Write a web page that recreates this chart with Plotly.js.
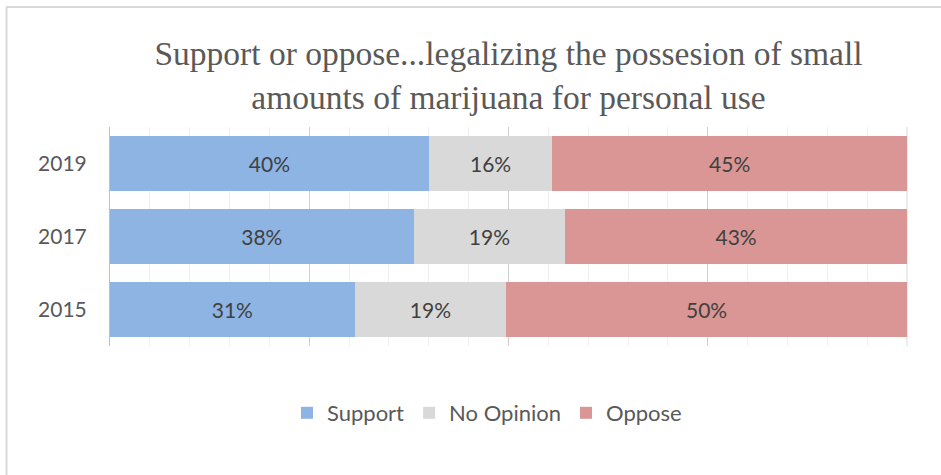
<!DOCTYPE html>
<html>
<head>
<meta charset="utf-8">
<script src="https://cdn.plot.ly/plotly-3.0.1.min.js"></script>
<style>html,body{margin:0;padding:0;background:#fff;}</style>
</head>
<body>
<div id="chart" style="width:941px;height:475px;"></div>
<script>
const years = ['2015', '2017', '2019'];
const support = [30.7, 38.1, 40];
const noOpinion = [19, 19, 15.5];
const oppose = [50.3, 42.9, 44.5];
const supportLabels = ['31%', '38%', '40%'];
const noOpinionLabels = ['19%', '19%', '16%'];
const opposeLabels = ['50%', '43%', '45%'];

const W = 941, H = 475;
const L = 110, R = 907, T = 127, B = 346;
const pw = R - L, ph = B - T;
const px = v => (v - L) / pw;
const py = v => (B - v) / ph;

const sans = 'Lato, "Open Sans", sans-serif';
const textFont = {family: sans, size: 21, color: '#404040'};

function barTrace(name, vals, labels, color) {
  return {
    type: 'bar', orientation: 'h', name: name,
    y: years, x: vals, text: labels,
    textposition: 'inside', insidetextanchor: 'middle', textangle: 0,
    insidetextfont: textFont, constraintext: 'none',
    marker: {color: color, line: {width: 0}},
    hoverinfo: 'skip'
  };
}

const data = [
  barTrace('Support', support, supportLabels, '#8EB4E3'),
  barTrace('No Opinion', noOpinion, noOpinionLabels, '#D9D9D9'),
  barTrace('Oppose', oppose, opposeLabels, '#DA9694')
];

const layout = {
  width: W, height: H,
  margin: {l: L, r: W - R, t: T, b: H - B, pad: 0},
  paper_bgcolor: '#ffffff', plot_bgcolor: '#ffffff',
  barmode: 'stack', bargap: 0.25,
  title: {
    text: 'Support or oppose...legalizing the possesion of small<br>amounts of marijuana for personal use',
    font: {family: '"Liberation Serif", "DejaVu Serif", serif', size: 33.5, color: '#595959'},
    x: 0.5, xanchor: 'center', xref: 'paper',
    y: 1 - 65 / H, yanchor: 'middle', yref: 'container'
  },
  xaxis: {
    range: [0, 100], showticklabels: false, ticks: '',
    showgrid: true, gridcolor: '#d0d0d0', gridwidth: 1, dtick: 25, tick0: 0,
    minor: {showgrid: true, dtick: 5, gridcolor: '#efefef', gridwidth: 1},
    zeroline: false, showline: false, fixedrange: true
  },
  yaxis: {
    type: 'category', categoryorder: 'array', categoryarray: years,
    ticks: '', ticklabelstandoff: 18,
    tickfont: {family: sans, size: 21, color: '#595959'},
    showgrid: false, zeroline: false, showline: true, linecolor: '#bfbfbf', linewidth: 1,
    fixedrange: true
  },
  showlegend: true,
  legend: {
    orientation: 'h', x: px(487), xanchor: 'center', y: py(413), yanchor: 'middle',
    font: {family: sans, size: 22, color: '#595959'},
    traceorder: 'normal', itemwidth: 30, tracegroupgap: 0, itemclick: false
  },
  shapes: [
    {type: 'line', xref: 'paper', yref: 'paper', x0: px(6), x1: px(941), y0: py(7), y1: py(7),
     line: {color: '#d9d9d9', width: 2}},
    {type: 'line', xref: 'paper', yref: 'paper', x0: px(6.5), x1: px(6.5), y0: py(7), y1: py(475),
     line: {color: '#d9d9d9', width: 2}},
    {type: 'line', xref: 'paper', yref: 'paper', x0: 1, x1: 1, y0: 0, y1: 1,
     line: {color: '#d9d9d9', width: 1}, layer: 'below'}
  ]
};

Plotly.newPlot('chart', data, layout, {staticPlot: true, displayModeBar: false});
</script>
</body>
</html>
